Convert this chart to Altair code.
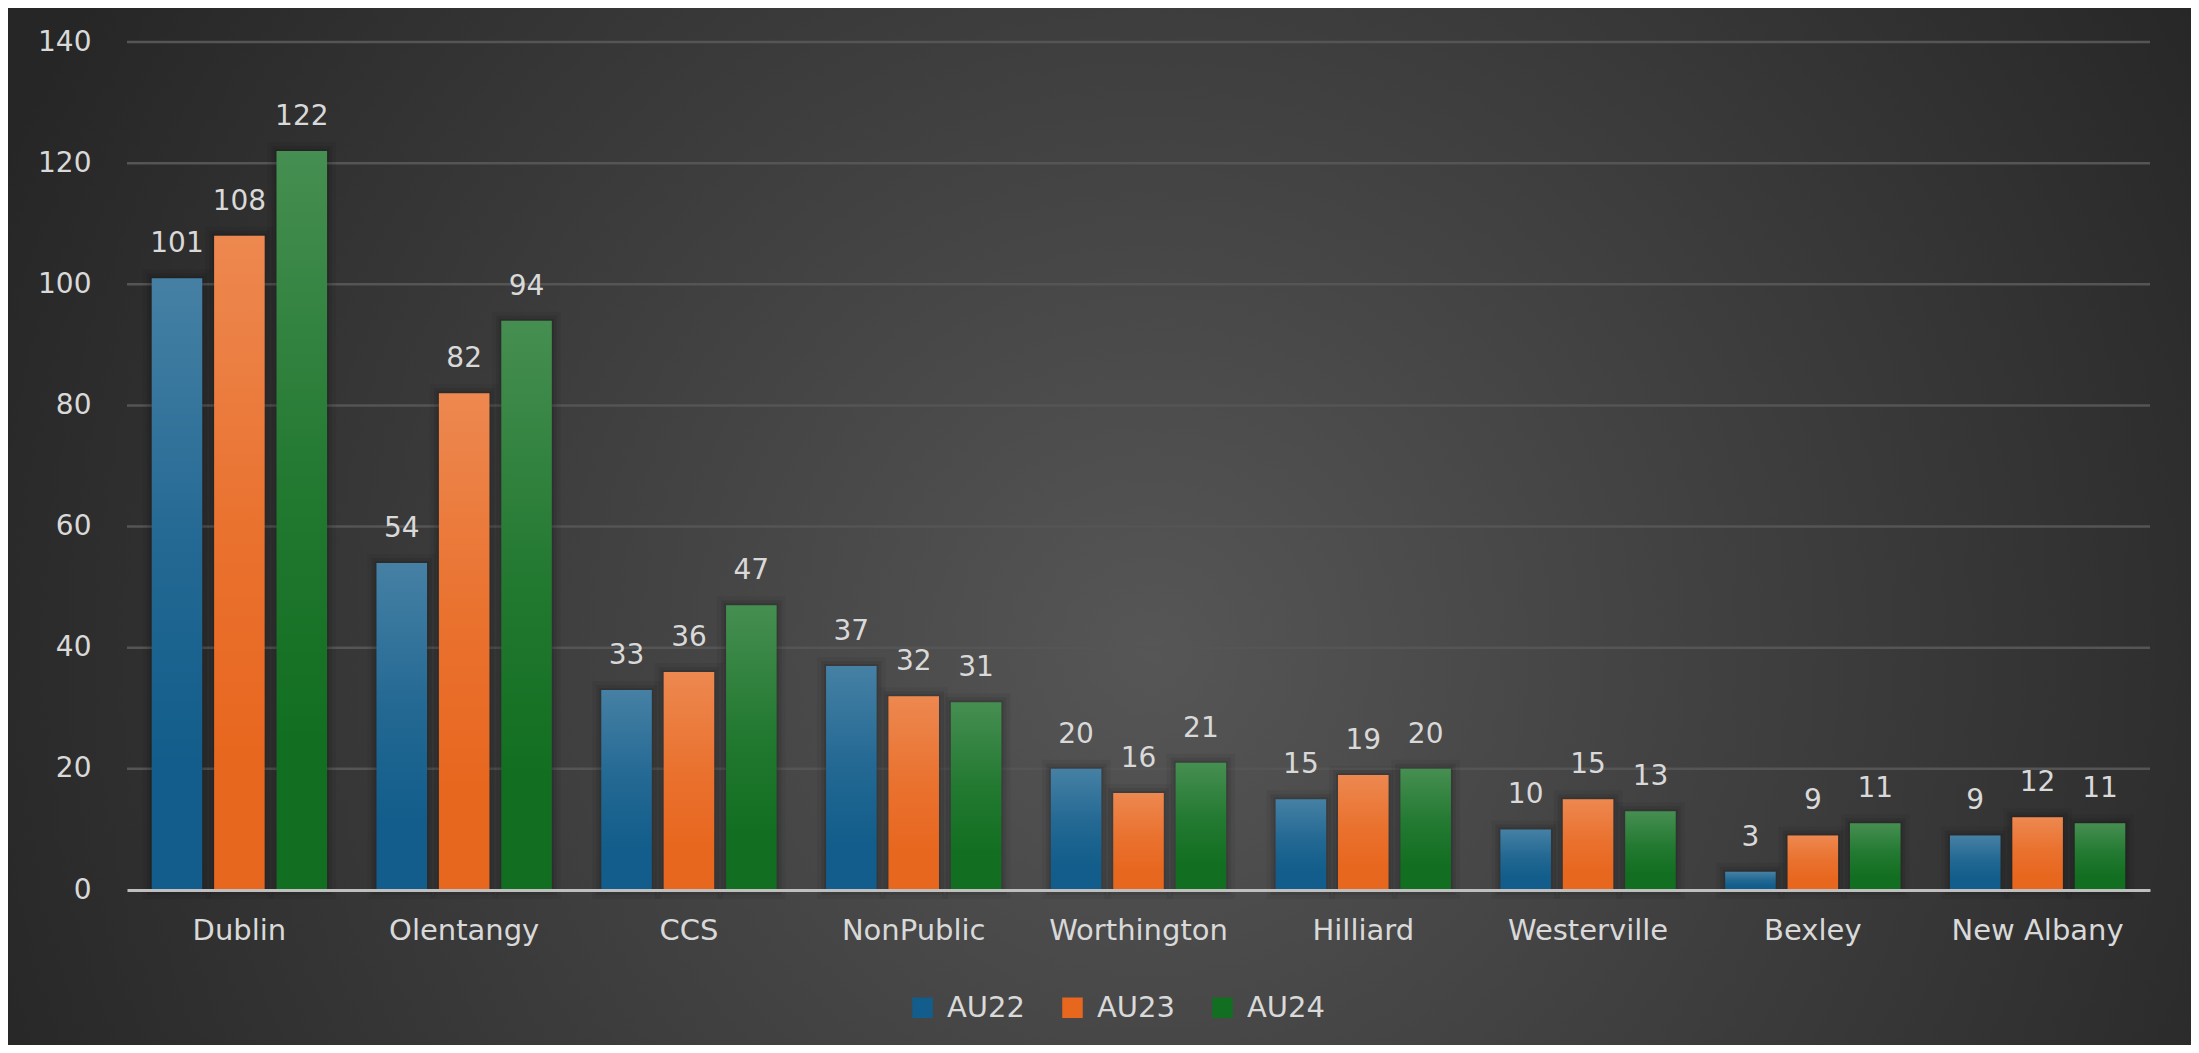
import altair as alt
import pandas as pd

categories = ["Dublin", "Olentangy", "CCS", "NonPublic", "Worthington",
              "Hilliard", "Westerville", "Bexley", "New Albany"]
series = ["AU22", "AU23", "AU24"]
au22 = [101, 54, 33, 37, 20, 15, 10, 3, 9]
au23 = [108, 82, 36, 32, 16, 19, 15, 9, 12]
au24 = [122, 94, 47, 31, 21, 20, 13, 11, 11]
colors = ["#125d8b", "#e8671f", "#126f21"]
y_ticks = [0, 20, 40, 60, 80, 100, 120, 140]

rows = []
for i, c in enumerate(categories):
    for s, vals in zip(series, [au22, au23, au24]):
        rows.append({"Category": c, "Series": s, "Value": vals[i]})
df = pd.DataFrame(rows)
grid_df = pd.DataFrame({"Value": y_ticks[1:]})

W, H = 2023, 848
FONT = "DejaVu Sans"
TXT = "#d9d9d9"

x_enc = alt.X(
    "Category:N", sort=categories,
    scale=alt.Scale(paddingInner=0.22, paddingOuter=0.11),
    axis=alt.Axis(title=None, labelAngle=0, ticks=False, labelPadding=26,
                  labelFontSize=29, labelColor=TXT, labelFont=FONT,
                  domainColor="#bfbfbf", domainWidth=3, grid=False, zindex=1),
)
xoff = alt.XOffset("Series:N", sort=series,
                   scale=alt.Scale(domain=series, paddingInner=0.19, paddingOuter=0))
y_enc = alt.Y(
    "Value:Q", scale=alt.Scale(domain=[0, 140], nice=False),
    axis=alt.Axis(title=None, values=y_ticks, domain=False, ticks=False,
                  labelPadding=36, labelFontSize=28, labelColor=TXT,
                  labelFont=FONT, grid=False, zindex=1),
)

bg_grad = alt.RadialGradient(
    gradient="radial", x1=0.523, y1=0.5, r1=0, x2=0.523, y2=0.5, r2=0.568,
    stops=[alt.GradientStop(color="#565656", offset=0),
           alt.GradientStop(color="#3e3e3e", offset=0.5),
           alt.GradientStop(color="#262626", offset=1)],
)
bg = alt.Chart(pd.DataFrame({"k": [0]})).mark_rect(fill=bg_grad).encode(
    x=alt.value(-127), x2=alt.value(2073), y=alt.value(-492), y2=alt.value(1708)
)

grid = alt.Chart(grid_df).mark_rule(color="#555555", strokeWidth=2.5).encode(
    y=alt.Y("Value:Q"), x=alt.value(0), x2=alt.value(W)
)

base = alt.Chart(df).encode(x=x_enc, xOffset=xoff, y=y_enc)

halo1 = base.mark_bar(fill="transparent", stroke="black", strokeOpacity=0.05, strokeWidth=18)
halo2 = base.mark_bar(fill="transparent", stroke="black", strokeOpacity=0.08, strokeWidth=10)
halo3 = base.mark_bar(fill="transparent", stroke="black", strokeOpacity=0.10, strokeWidth=4)

bars = base.mark_bar().encode(
    color=alt.Color(
        "Series:N", sort=series,
        scale=alt.Scale(domain=series, range=colors),
        legend=alt.Legend(title=None, orient="none", legendX=781, legendY=951,
                          direction="horizontal", symbolType="square",
                          symbolSize=420, symbolStrokeWidth=0,
                          labelFontSize=29, labelColor=TXT, labelFont=FONT,
                          columnPadding=33, labelOffset=10, padding=0),
    )
)

hl = alt.LinearGradient(
    gradient="linear", x1=0, y1=0, x2=0, y2=1,
    stops=[alt.GradientStop(color="rgba(255,255,255,0.22)", offset=0),
           alt.GradientStop(color="rgba(255,255,255,0.07)", offset=0.45),
           alt.GradientStop(color="rgba(255,255,255,0)", offset=0.8)],
)
overlay = base.mark_bar(fill=hl)

labels = base.mark_text(baseline="alphabetic", dy=-26, fontSize=28,
                        font=FONT, color=TXT).encode(text="Value:Q")

chart = alt.layer(bg, grid, halo1, halo2, halo3, bars, overlay, labels).properties(
    width=W, height=H,
    autosize=alt.AutoSizeParams(type="none"),
    padding={"left": 119, "top": 34, "right": 41, "bottom": 155},
).configure(background="#2a2a2a").configure_view(strokeWidth=0)

chart.save("out.html", embed_options={"renderer": "svg", "actions": False})
